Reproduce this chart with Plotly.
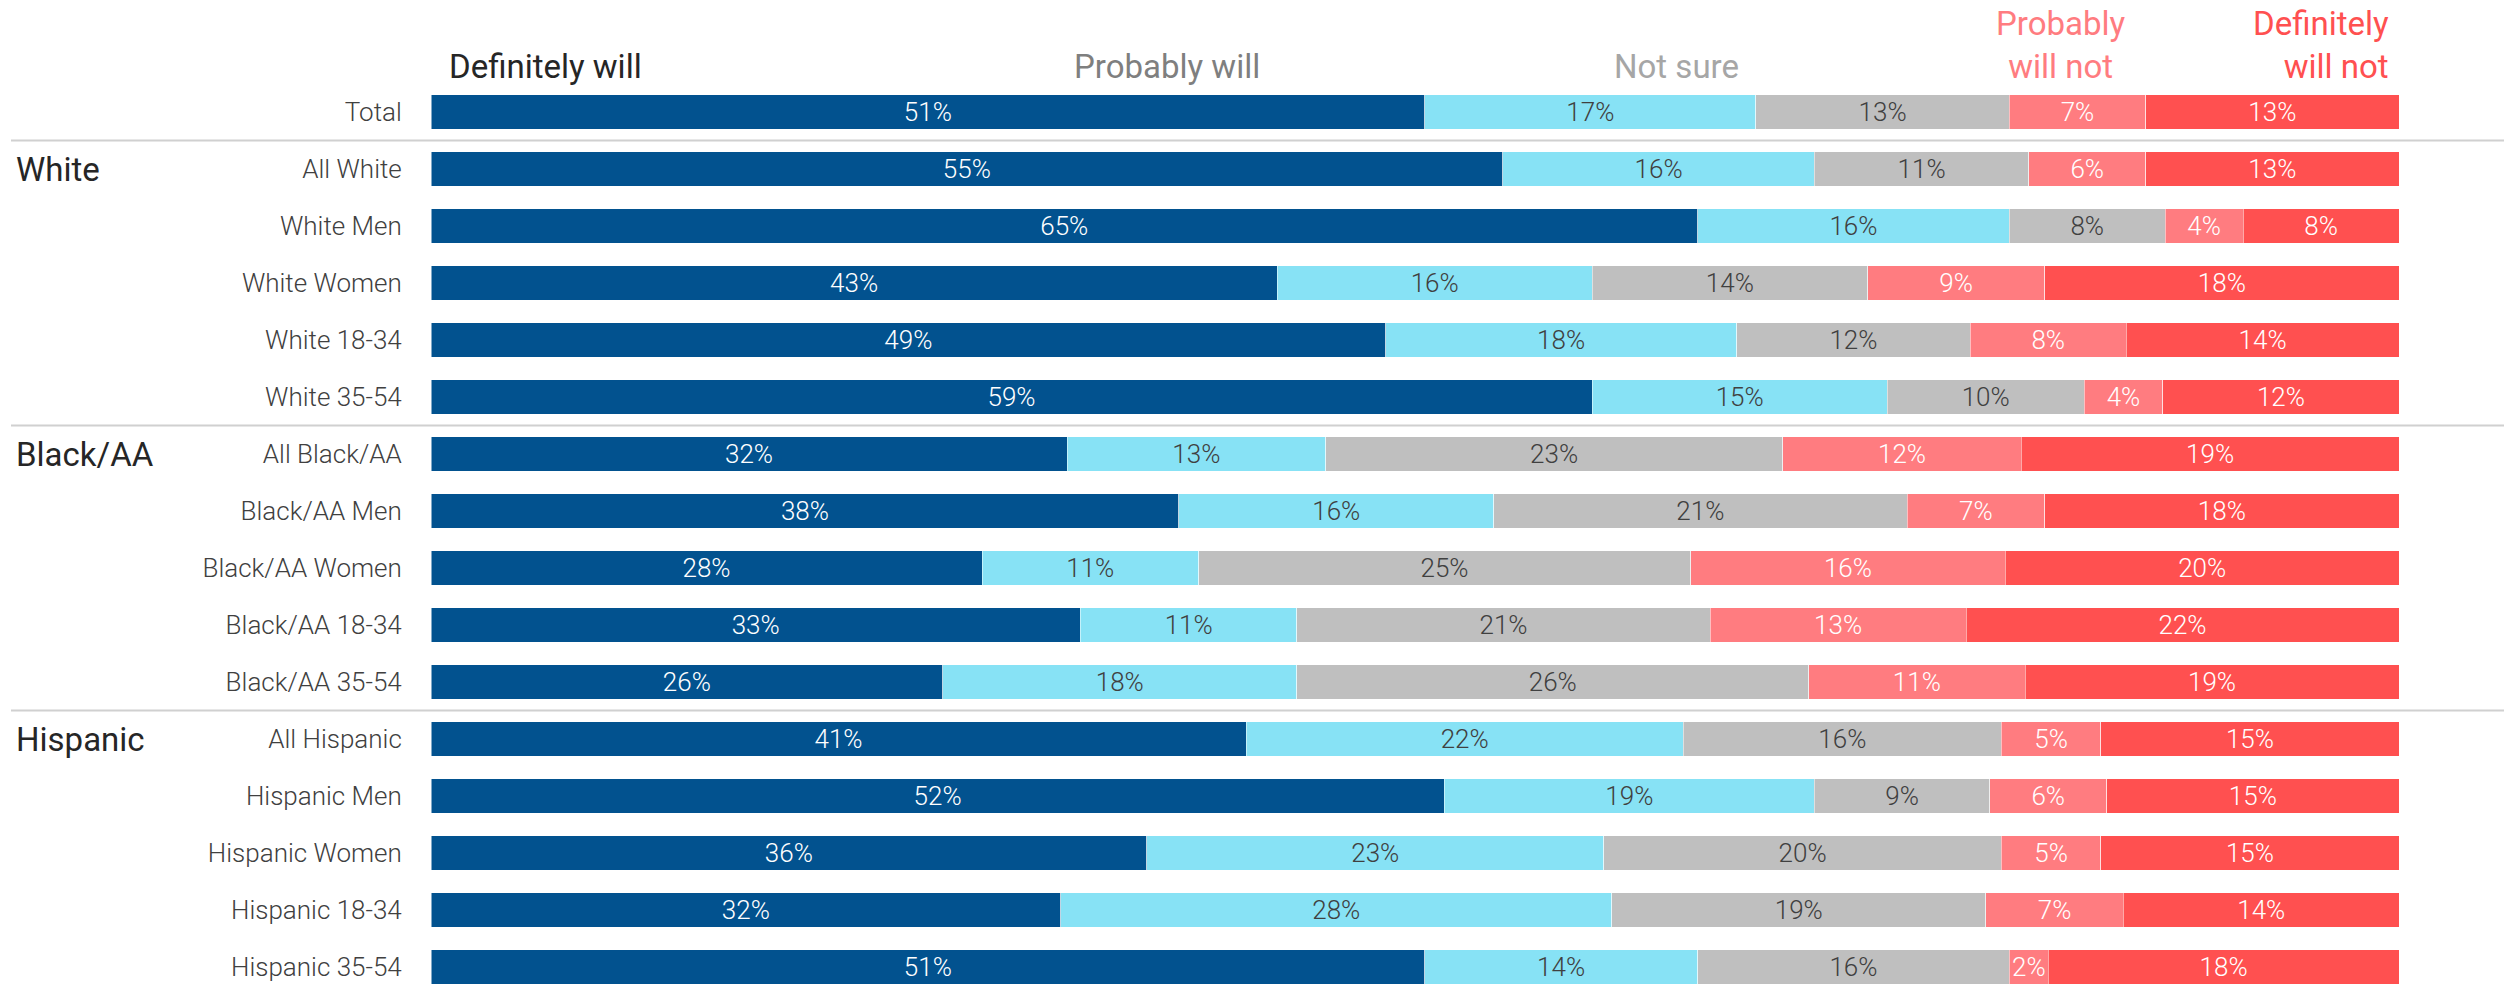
import plotly.graph_objects as go

categories = ["Total", "All White", "White Men", "White Women", "White 18-34", "White 35-54",
              "All Black/AA", "Black/AA Men", "Black/AA Women", "Black/AA 18-34", "Black/AA 35-54",
              "All Hispanic", "Hispanic Men", "Hispanic Women", "Hispanic 18-34", "Hispanic 35-54"]
definitely_will = [51, 55, 65, 43, 49, 59, 32, 38, 28, 33, 26, 41, 52, 36, 32, 51]
probably_will = [17, 16, 16, 16, 18, 15, 13, 16, 11, 11, 18, 22, 19, 23, 28, 14]
not_sure = [13, 11, 8, 14, 12, 10, 23, 21, 25, 21, 26, 16, 9, 20, 19, 16]
probably_will_not = [7, 6, 4, 9, 8, 4, 12, 7, 16, 13, 11, 5, 6, 5, 7, 2]
definitely_will_not = [13, 13, 8, 18, 14, 12, 19, 18, 20, 22, 19, 15, 15, 15, 14, 18]

series_names = ["Definitely will", "Probably will", "Not sure", "Probably will not", "Definitely will not"]
header_texts = ["Definitely will", "Probably will", "Not sure", "Probably<br>will not", "Definitely<br>will not"]
groups = ["White", "Black/AA", "Hispanic"]
group_rows = [1, 6, 11]
separator_rows = [0.5, 5.5, 10.5]

series = [definitely_will, probably_will, not_sure, probably_will_not, definitely_will_not]
colors = ["#02528F", "#87E2F5", "#BFBFBF", "#FF7C80", "#FF5050"]
text_colors = ["#FFFFFF", "#404040", "#404040", "#FFFFFF", "#FFFFFF"]
header_colors = ["#262626", "#7F7F7F", "#A6A6A6", "#FF7C80", "#FF5050"]

FONT = "Roboto"
rows = list(range(len(categories)))
totals = [sum(s[i] for s in series) for i in rows]

fig = go.Figure()
for name, vals, col, tcol in zip(series_names, series, colors, text_colors):
    fig.add_trace(go.Bar(
        y=rows,
        x=[v / t * 100 for v, t in zip(vals, totals)],
        orientation="h",
        name=name,
        marker=dict(color=col, line=dict(color="rgba(255,255,255,0.5)", width=1)),
        text=[f"{v}%" for v in vals],
        textposition="inside",
        insidetextanchor="middle",
        constraintext="none",
        textfont=dict(family=FONT, size=26, color=tcol, weight=300),
        hoverinfo="skip",
    ))

# header labels
hdr_x = [0.8, 37.4, 63.3, 82.8, 99.6]
hdr_anchor = ["left", "center", "center", "center", "right"]
for t, x, a, c in zip(header_texts, hdr_x, hdr_anchor, header_colors):
    fig.add_annotation(x=x, xref="x", y=1 - 88 / 984, yref="paper", text=t,
                       xanchor=a, yanchor="bottom", showarrow=False,
                       align=a, font=dict(family=FONT, size=33, color=c))

for g, r in zip(groups, group_rows):
    fig.add_annotation(x=(14 - 431) / 1968, xref="paper", y=r, yref="y", text=g,
                       xanchor="left", yanchor="middle", showarrow=False,
                       font=dict(family=FONT, size=33, color="#262626"))

for s in separator_rows:
    fig.add_shape(type="line", xref="paper", yref="y",
                  x0=(11 - 431) / 1968, x1=(2504 - 431) / 1968, y0=s, y1=s,
                  line=dict(color="#D0D0D0", width=2))

fig.update_layout(
    width=2504, height=984,
    barmode="stack", bargap=0.39,
    showlegend=False,
    plot_bgcolor="white", paper_bgcolor="white",
    margin=dict(l=431, r=105, t=0, b=0),
    font=dict(family=FONT),
)
fig.update_xaxes(range=[0, 100], visible=False, fixedrange=True)
fig.update_yaxes(range=[15 + (984 - 967) / 57, -112 / 57],
                 tickvals=rows, ticktext=categories,
                 ticks="outside", ticklen=23, tickcolor="rgba(0,0,0,0)",
                 tickfont=dict(family=FONT, size=26, color="#404040", weight=300),
                 showgrid=False, zeroline=False, showline=False)

fig.write_html("out.html")
